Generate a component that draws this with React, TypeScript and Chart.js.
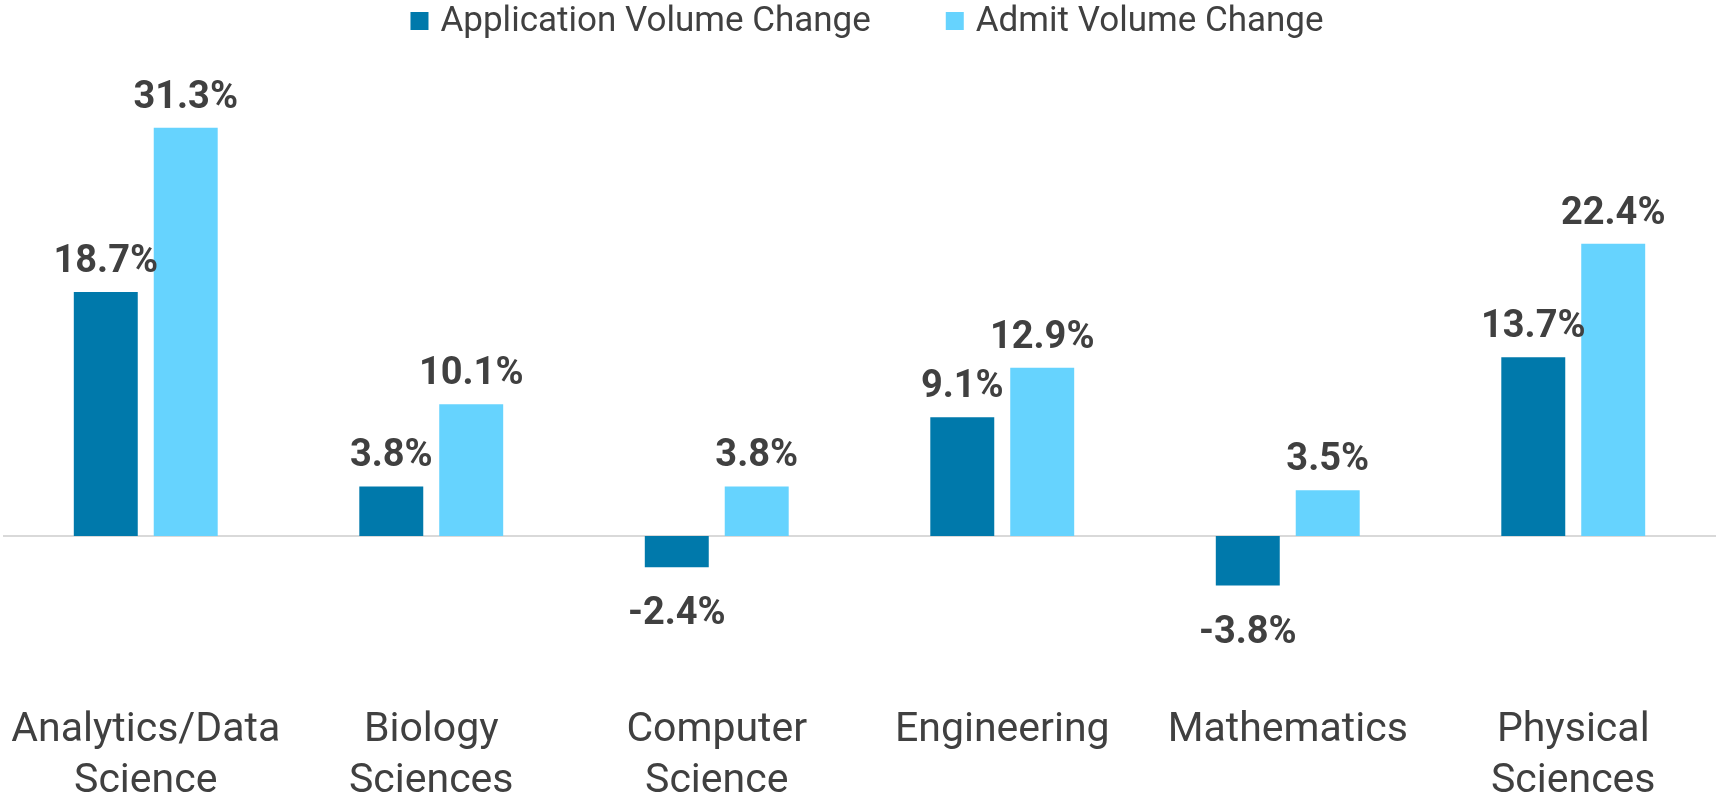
import React, { useEffect, useRef } from "react";
import { Chart, registerables } from "chart.js";

Chart.register(...registerables);

const categories: string[][] = [
  ["Analytics/Data", "Science"],
  ["Biology", "Sciences"],
  ["Computer", "Science"],
  ["Engineering"],
  ["Mathematics"],
  ["Physical", "Sciences"],
];
const applicationChange = [18.7, 3.8, -2.4, 9.1, -3.8, 13.7];
const admitChange = [31.3, 10.1, 3.8, 12.9, 3.5, 22.4];
const seriesNames = ["Application Volume Change", "Admit Volume Change"];
const seriesColors = ["#0079AB", "#66D3FE"];

const TEXT = "#404040";
const FONT = "Roboto, 'Noto Sans', sans-serif";

const labelPlugin = {
  id: "valueLabels",
  afterDatasetsDraw(chart: any) {
    const ctx = chart.ctx;
    ctx.save();
    ctx.font = `bold 38px ${FONT}`;
    ctx.fillStyle = TEXT;
    ctx.textAlign = "center";
    ctx.textBaseline = "alphabetic";
    chart.data.datasets.forEach((ds: any, di: number) => {
      const meta = chart.getDatasetMeta(di);
      meta.data.forEach((el: any, i: number) => {
        const v = ds.data[i];
        const txt = v.toFixed(1) + "%";
        const y = v >= 0 ? el.y - 20 : el.y + 57;
        ctx.fillText(txt, el.x, y);
      });
    });
    ctx.restore();
  },
};

const legendPlugin = {
  id: "customLegend",
  afterDraw(chart: any) {
    const ctx = chart.ctx;
    ctx.save();
    ctx.font = `35px ${FONT}`;
    ctx.textBaseline = "middle";
    ctx.textAlign = "left";
    const box = 18;
    const gapText = 12;
    const gapItem = 75;
    const items = chart.data.datasets.map((ds: any) => ({
      label: ds.label as string,
      color: ds.backgroundColor as string,
      w: ctx.measureText(ds.label).width,
    }));
    const total = items.reduce((s: number, it: any) => s + box + gapText + it.w, 0) + gapItem * (items.length - 1);
    let x = 867 - total / 2;
    const cy = 21;
    items.forEach((it: any) => {
      ctx.fillStyle = it.color;
      ctx.fillRect(x, cy - box / 2, box, box);
      ctx.fillStyle = TEXT;
      ctx.fillText(it.label, x + box + gapText, cy + 1);
      x += box + gapText + it.w + gapItem;
    });
    ctx.restore();
  },
};

export default function App() {
  const ref = useRef<HTMLCanvasElement | null>(null);
  useEffect(() => {
    if (!ref.current) return;
    const chart = new Chart(ref.current, {
      type: "bar",
      data: {
        labels: categories,
        datasets: [
          {
            label: seriesNames[0],
            data: applicationChange,
            backgroundColor: seriesColors[0],
            barPercentage: 0.8,
            categoryPercentage: 0.56,
          },
          {
            label: seriesNames[1],
            data: admitChange,
            backgroundColor: seriesColors[1],
            barPercentage: 0.8,
            categoryPercentage: 0.56,
          },
        ],
      },
      options: {
        responsive: false,
        maintainAspectRatio: false,
        animation: false,
        layout: { padding: { top: 60, left: 3, right: 0, bottom: 0 } },
        plugins: {
          legend: { display: false },
          tooltip: { enabled: false },
        },
        scales: {
          x: {
            grid: { display: false, drawTicks: false },
            border: { display: false },
            ticks: {
              color: TEXT,
              font: { family: FONT, size: 41, lineHeight: 1.25 },
              padding: 66,
              maxRotation: 0,
              autoSkip: false,
            },
            afterFit: (scale: any) => {
              scale.height = 154;
              scale.paddingLeft = 0;
              scale.paddingRight = 0;
            },
          },
          y: {
            min: -7.9,
            max: 36.5,
            display: true,
            border: { display: false },
            ticks: { display: false, stepSize: 0.1 },
            grid: {
              drawTicks: false,
              lineWidth: 2,
              color: (c: any) => (c.tick && Math.abs(c.tick.value) < 1e-9 ? "#D9D9D9" : "rgba(0,0,0,0)"),
            },
          },
        },
      },
      plugins: [labelPlugin, legendPlugin],
    });
    return () => chart.destroy();
  }, []);
  return (
    <div style={{ position: "fixed", left: 0, top: 0, width: 1716, height: 793, background: "#fff" }}>
      <canvas ref={ref} width={1716} height={793} style={{ display: "block", width: 1716, height: 793 }} />
    </div>
  );
}
